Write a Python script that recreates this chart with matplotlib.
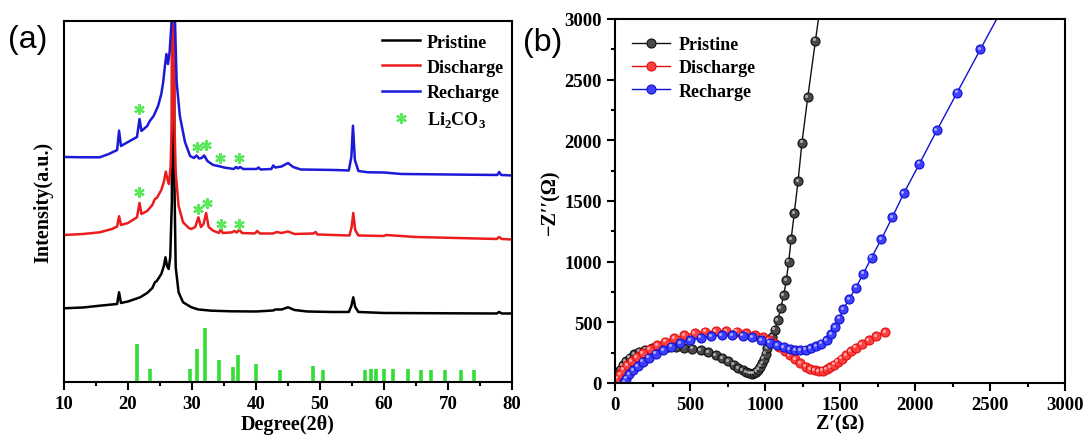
import matplotlib
matplotlib.use("Agg")
import matplotlib.pyplot as plt
from matplotlib.transforms import offset_copy
from matplotlib.ticker import MultipleLocator, NullLocator

# ---------------- (a) XRD patterns (stacked, arbitrary units) ----------------
xrd_pristine_x = [10, 13, 15.6, 17.5, 18.3, 18.6, 18.9, 20, 21.9, 23, 23.8, 24.2, 24.5, 25.2, 25.6,
                  25.85, 26.1, 26.35, 26.6, 26.85, 27.05, 27.25, 27.45, 27.9, 28.6, 29.9, 31, 33, 36,
                  40, 42.7, 43, 44, 45, 46, 48, 52, 54.5, 54.9, 55.2, 55.5, 56, 60, 70, 77.6, 78,
                  78.4, 80]
xrd_pristine_y = [73.7, 74.5, 76.3, 77.5, 78, 89.7, 79, 80.5, 84.7, 89, 94, 99.7, 101, 108, 116,
                  124.7, 116, 113, 125, 180, 1000, 200, 115, 89.7, 79.7, 74.7, 72.5, 71.3, 70.7,
                  70.5, 71.5, 72.5, 72.5, 74.7, 72, 70.5, 70, 70, 76, 84.7, 75, 70, 69, 68.7, 68.5,
                  70, 68.5, 68.5]

xrd_discharge_x = [10, 13, 15.6, 17.5, 18.3, 18.6, 18.9, 20, 21.4, 21.8, 22.1, 23, 23.8, 24.2, 24.5,
                   25.2, 25.6, 25.9, 26.2, 26.4, 26.65, 26.85, 27.05, 27.25, 27.45, 27.9, 28.6, 29.5,
                   29.9, 30.5, 31.0, 31.4, 31.8, 32.2, 32.6, 33.3, 34.2, 34.5, 34.8, 36.3, 36.6, 37.0,
                   37.4, 37.8, 39.8, 40.2, 40.6, 42.7, 43.2, 44, 45, 46, 49, 49.3, 49.6, 54.6, 54.95,
                   55.2, 55.5, 56, 60, 60.3, 65, 77.6, 78, 78.4, 80]
xrd_discharge_y = [147, 148, 149.7, 153, 155.5, 165.7, 157, 159, 164.7, 179, 168, 171, 177, 183, 184,
                   192, 200, 210.3, 202, 198, 215, 260, 1000, 260, 210, 176, 159.7, 154, 153, 155,
                   164.7, 155, 158, 169, 155, 151.3, 149, 153, 149, 149.7, 151, 149.5, 152.5, 149,
                   148.5, 151, 148.5, 148.5, 150, 149, 150.5, 148, 148.5, 150, 147.5, 146.5, 155,
                   169, 152, 146.5, 146, 147, 145, 143, 145, 143, 142.5]

xrd_recharge_x = [10, 13, 15.6, 17, 18.3, 18.6, 18.9, 20, 21.4, 21.8, 22.1, 23, 23.4, 24, 24.7, 25.2,
                  25.5, 25.75, 26.0, 26.25, 26.5, 26.8, 27.05, 27.3, 27.6, 28.1, 28.9, 29.7, 30.3,
                  30.7, 31.1, 31.5, 31.9, 32.4, 33.3, 34.3, 35, 36.5, 36.9, 37.2, 37.5, 38, 40.1,
                  40.4, 40.7, 42.4, 42.7, 43, 44, 45, 45.8, 47, 52.3, 54.5, 54.9, 55.15, 55.45, 56,
                  57.5, 60, 62.7, 70, 77.7, 78, 78.3, 80]
xrd_recharge_y = [225, 224.7, 224.7, 228, 232, 251.3, 236, 240, 245, 263, 251, 256, 261, 266, 276, 288,
                  300, 315, 328, 318, 330, 360, 1000, 370, 300, 266, 240, 226, 224, 226.5, 223.5,
                  224, 226.5, 221, 217, 215.7, 214.5, 213, 215, 213.5, 215, 213, 213, 214.5, 212.5,
                  213, 216.5, 214.5, 215.5, 219, 215, 212.5, 212, 211.5, 225, 256.3, 222, 211,
                  209.7, 209.5, 208, 207.5, 207, 210, 207, 206.5]

# Li2CO3 reference pattern (stick positions, relative heights)
ref_pos = [21.42, 23.41, 29.61, 30.71, 31.96, 34.20, 36.34, 37.12, 39.94, 43.70, 48.97, 50.43,
           57.11, 57.94, 58.78, 60.03, 61.33, 63.68, 65.71, 67.28, 69.57, 72.08, 74.01]
ref_int = [38.3, 12.7, 12.7, 32.7, 54.3, 21.7, 15, 27.3, 18.3, 12.3, 16.3, 12.3,
           12.3, 13, 13, 13, 13, 13, 12.3, 12.3, 12.3, 12.3, 12.3]

# Li2CO3 asterisk markers on the discharge / recharge patterns
star_recharge_x = [21.7, 30.8, 32.2, 34.4, 37.4]
star_recharge_y = [273, 234.7, 237, 223.7, 223.7]
star_discharge_x = [21.7, 31.0, 32.3, 34.5, 37.4]
star_discharge_y = [189.7, 173, 179, 158, 158]

# ---------------- (b) Nyquist plots ----------------
eis_pristine_re = [5, 12, 22, 35, 52, 72, 97, 127, 162, 202, 248, 298, 350, 405, 460, 515, 570, 622,
                   670, 715, 755, 790, 822, 850, 873, 893, 910, 925, 940, 955, 968, 980, 992, 1004,
                   1016, 1030, 1047, 1065, 1085, 1105, 1124, 1142, 1158, 1174, 1195, 1220, 1246,
                   1285, 1336, 1398]
eis_pristine_im = [10, 40, 75, 110, 145, 178, 208, 235, 257, 274, 286, 293, 296, 295, 291, 283, 270,
                   252, 230, 205, 178, 150, 124, 103, 89, 81, 78, 82, 92, 110, 135, 165, 200, 240,
                   285, 330, 380, 440, 520, 615, 723, 847, 1001, 1186, 1400, 1662, 1979, 2357,
                   2820, 3380]
eis_discharge_re = [5, 18, 35, 55, 80, 110, 145, 185, 230, 280, 335, 395, 460, 530, 600, 670, 740,
                    810, 875, 935, 985, 1025, 1060, 1095, 1130, 1165, 1200, 1235, 1270, 1300, 1330,
                    1358, 1385, 1410, 1435, 1460, 1485, 1510, 1540, 1570, 1605, 1645, 1690, 1740,
                    1801]
eis_discharge_im = [8, 40, 75, 110, 145, 180, 215, 248, 280, 310, 340, 368, 392, 410, 422, 428, 429,
                    423, 410, 395, 375, 355, 330, 300, 265, 230, 195, 162, 135, 115, 103, 97, 100,
                    112, 130, 150, 175, 200, 230, 260, 290, 320, 355, 387, 420]
eis_recharge_re = [60, 75, 95, 120, 150, 185, 225, 270, 320, 375, 435, 500, 570, 640, 710, 780, 850,
                   915, 975, 1030, 1080, 1125, 1165, 1200, 1235, 1270, 1305, 1340, 1375, 1410, 1440,
                   1468, 1495, 1522, 1560, 1606, 1655, 1710, 1776, 1848, 1925, 2029, 2145, 2280,
                   2436, 2610]
eis_recharge_im = [5, 35, 70, 105, 140, 175, 208, 240, 270, 300, 328, 352, 372, 387, 395, 396, 390,
                   375, 355, 333, 312, 293, 280, 272, 270, 274, 285, 302, 325, 355, 400, 460, 530,
                   607, 690, 786, 901, 1034, 1186, 1365, 1563, 1806, 2081, 2392, 2751, 3150]

SERIF = ["Liberation Serif", "DejaVu Serif"]
plt.rcParams["font.family"] = SERIF
plt.rcParams["font.weight"] = "bold"
plt.rcParams["mathtext.fontset"] = "custom"
plt.rcParams["mathtext.rm"] = "Liberation Serif:bold"
plt.rcParams["mathtext.bf"] = "Liberation Serif:bold"
plt.rcParams["axes.linewidth"] = 1.5

BLACK = "#000000"
RED = "#ec1c1c"
BLUE = "#1a1ad8"
GREEN = "#33dd33"
STAR_GREEN = "#5be85b"

fig = plt.figure(figsize=(10.87, 4.39), dpi=100)
ax1 = fig.add_axes([0.0589, 0.1276, 0.4121, 0.8223])
ax2 = fig.add_axes([0.5658, 0.1253, 0.4140, 0.8292])

# ---- panel a ----
ax1.plot(xrd_pristine_x, xrd_pristine_y, color=BLACK, lw=1.8, label="Pristine")
ax1.plot(xrd_discharge_x, xrd_discharge_y, color=RED, lw=1.8, label="Discharge")
ax1.plot(xrd_recharge_x, xrd_recharge_y, color=BLUE, lw=1.8, label="Recharge")
ax1.vlines(ref_pos, 0, ref_int, color=GREEN, lw=2.6)
star_kw = dict(ls="none", marker=(6, 2, 0), ms=7.5, mew=1.6, color=STAR_GREEN)
ax1.plot(star_recharge_x, star_recharge_y, **star_kw)
ax1.plot(star_discharge_x, star_discharge_y, label=r"Li$_{\mathrm{2}}$CO$_{\mathrm{3}}$", **star_kw)

ax1.set_xlim(10, 80)
ax1.set_ylim(0, 361)
ax1.xaxis.set_major_locator(MultipleLocator(10))
ax1.xaxis.set_minor_locator(MultipleLocator(5))
ax1.yaxis.set_major_locator(NullLocator())
ax1.tick_params(axis="x", which="major", direction="out", length=5.5, width=1.5, labelsize=13.5, pad=4)
ax1.tick_params(axis="x", which="minor", direction="out", length=3, width=1.5)
ax1.set_xlabel("Degree(2θ)", fontsize=14.5, fontweight="bold", labelpad=1)
ax1.set_ylabel("Intensity(a.u.)", fontsize=14.5, fontweight="bold", labelpad=8)
ax1.legend(loc="upper right", bbox_to_anchor=(1.01, 1.0), frameon=False, fontsize=13,
           handlelength=2.1, handletextpad=0.35, labelspacing=0.45, borderaxespad=0.3)

# ---- panel b ----
def nyquist(ax, re, im, color, face, label):
    ax.plot(re, im, color=color, lw=1.0, marker="o", ms=6.5, mfc=face, mec=color, mew=0.8,
            label=label)
    hl = offset_copy(ax.transData, fig=fig, x=-1.0, y=1.0, units="points")
    ax.plot(re, im, ls="none", marker="o", ms=2.2, mfc="white", mec="none", alpha=0.55,
            transform=hl)


nyquist(ax2, eis_pristine_re, eis_pristine_im, "#111111", "#4a4a4a", "Pristine")
nyquist(ax2, eis_discharge_re, eis_discharge_im, "#e01010", "#ff4040", "Discharge")
nyquist(ax2, eis_recharge_re, eis_recharge_im, "#1010d0", "#3f3fff", "Recharge")

ax2.set_xlim(0, 3000)
ax2.set_ylim(0, 3000)
for axis in (ax2.xaxis, ax2.yaxis):
    axis.set_major_locator(MultipleLocator(500))
    axis.set_minor_locator(MultipleLocator(250))
ax2.tick_params(which="major", direction="out", length=5.5, width=1.5, labelsize=13.5, pad=4)
ax2.tick_params(which="minor", direction="out", length=3, width=1.5)
ax2.set_xlabel("Z′(Ω)", fontsize=14.5, fontweight="bold", labelpad=0)
ax2.set_ylabel("−Z′′(Ω)", fontsize=14.5, fontweight="bold", labelpad=3)
ax2.legend(loc="upper left", frameon=False, fontsize=13, handlelength=2.1, handletextpad=0.5,
           labelspacing=0.35, borderaxespad=0.55)

fig.text(0.0074, 0.909, "(a)", fontsize=23, family=["Liberation Sans"], fontweight="normal",
         va="center", ha="left")
fig.text(0.481, 0.902, "(b)", fontsize=23, family=["Liberation Sans"], fontweight="normal",
         va="center", ha="left")

fig.savefig("out.png", dpi=100)
